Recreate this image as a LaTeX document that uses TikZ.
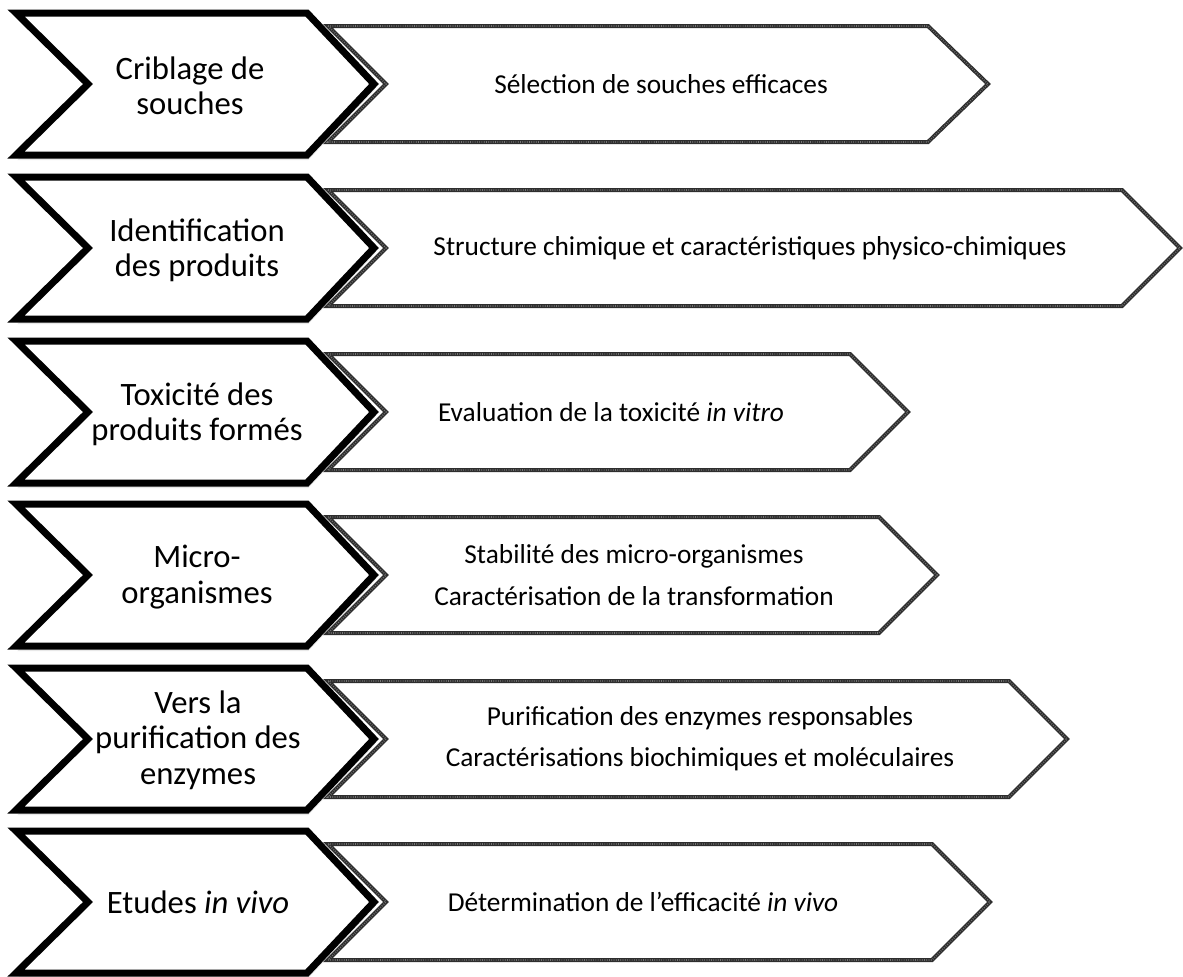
\documentclass[tikz,border=0pt]{standalone}
\usepackage{fontspec}
\setmainfont{Carlito}
\usetikzlibrary{shadows}

\begin{document}
\begin{tikzpicture}[x=0.75pt, y=-0.75pt, every node/.style={font=\fontsize{20.5}{31}\selectfont}, chev/.style={draw, line width=5.25pt, fill=white, drop shadow={shadow xshift=1pt, shadow yshift=-3.8pt, opacity=0.18}}, pent/.style={draw=black!82, line width=3pt, fill=white, postaction={draw=white, line width=1.2pt, dash pattern=on 0.5pt off 1.2pt, opacity=0.35}}, step name/.style={align=center, font=\fontsize{24.5}{26.5}\selectfont}, task/.style={align=center}]
	\useasboundingbox (0,0) rectangle (1183,976);
	% grey arrows behind
	\draw[pent] (328,26) -- (928,26) -- (988,84) -- (928,142) -- (328,142) -- (386,84) -- cycle;
	\draw[pent] (328,190) -- (1122,190) -- (1180,248) -- (1122,306) -- (328,306) -- (386,248) -- cycle;
	\draw[pent] (328,354) -- (850,354) -- (908,412) -- (850,470) -- (328,470) -- (386,412) -- cycle;
	\draw[pent] (328,517) -- (879,517) -- (937,575) -- (879,633) -- (328,633) -- (386,575) -- cycle;
	\draw[pent] (328,681) -- (1009,681) -- (1067,739) -- (1009,797) -- (328,797) -- (386,739) -- cycle;
	\draw[pent] (328,844) -- (932,844) -- (990,902) -- (932,960) -- (328,960) -- (386,902) -- cycle;
	% black chevrons
	\draw[chev] (16,13) -- (307,13) -- (374,84) -- (307,155) -- (16,155) -- (88,84) -- cycle;
	\draw[chev] (16,177) -- (307,177) -- (374,248) -- (307,319) -- (16,319) -- (88,248) -- cycle;
	\draw[chev] (16,341) -- (307,341) -- (374,412) -- (307,483) -- (16,483) -- (88,412) -- cycle;
	\draw[chev] (16,504) -- (307,504) -- (374,575) -- (307,646) -- (16,646) -- (88,575) -- cycle;
	\draw[chev] (16,668) -- (307,668) -- (374,739) -- (307,810) -- (16,810) -- (88,739) -- cycle;
	\draw[chev] (16,831) -- (307,831) -- (374,902) -- (307,973) -- (16,973) -- (88,902) -- cycle;
	% step names
	\node[step name] (s1) at (190,86) {Criblage de\\ souches};
	\node[step name] (s2) at (197,250) {Identification\\ des produits};
	\node[step name] (s3) at (197,414) {Toxicité des\\ produits formés};
	\node[step name] (s4) at (197,577) {Micro-\\ organismes};
	\node[step name] (s5) at (198,740) {Vers la\\ purification des\\ enzymes};
	\node[step name] (s6) at (198,902) {Etudes \textit{in vivo}};
	% tasks
	\node[task] (t1) at (661,84) {Sélection de souches efficaces};
	\node[task] (t2) at (750,248) {Structure chimique et caractéristiques physico-chimiques};
	\node[task] (t3) at (611,412) {Evaluation de la toxicité \textit{in vitro}};
	\node[task] (t4) at (634,575) {Stabilité des micro-organismes\\ Caractérisation de la transformation};
	\node[task] (t5) at (700,739) {Purification des enzymes responsables\\ Caractérisations biochimiques et moléculaires};
	\node[task] (t6) at (643,902) {Détermination de l'efficacité \textit{in vivo}};
\end{tikzpicture}
\end{document}
